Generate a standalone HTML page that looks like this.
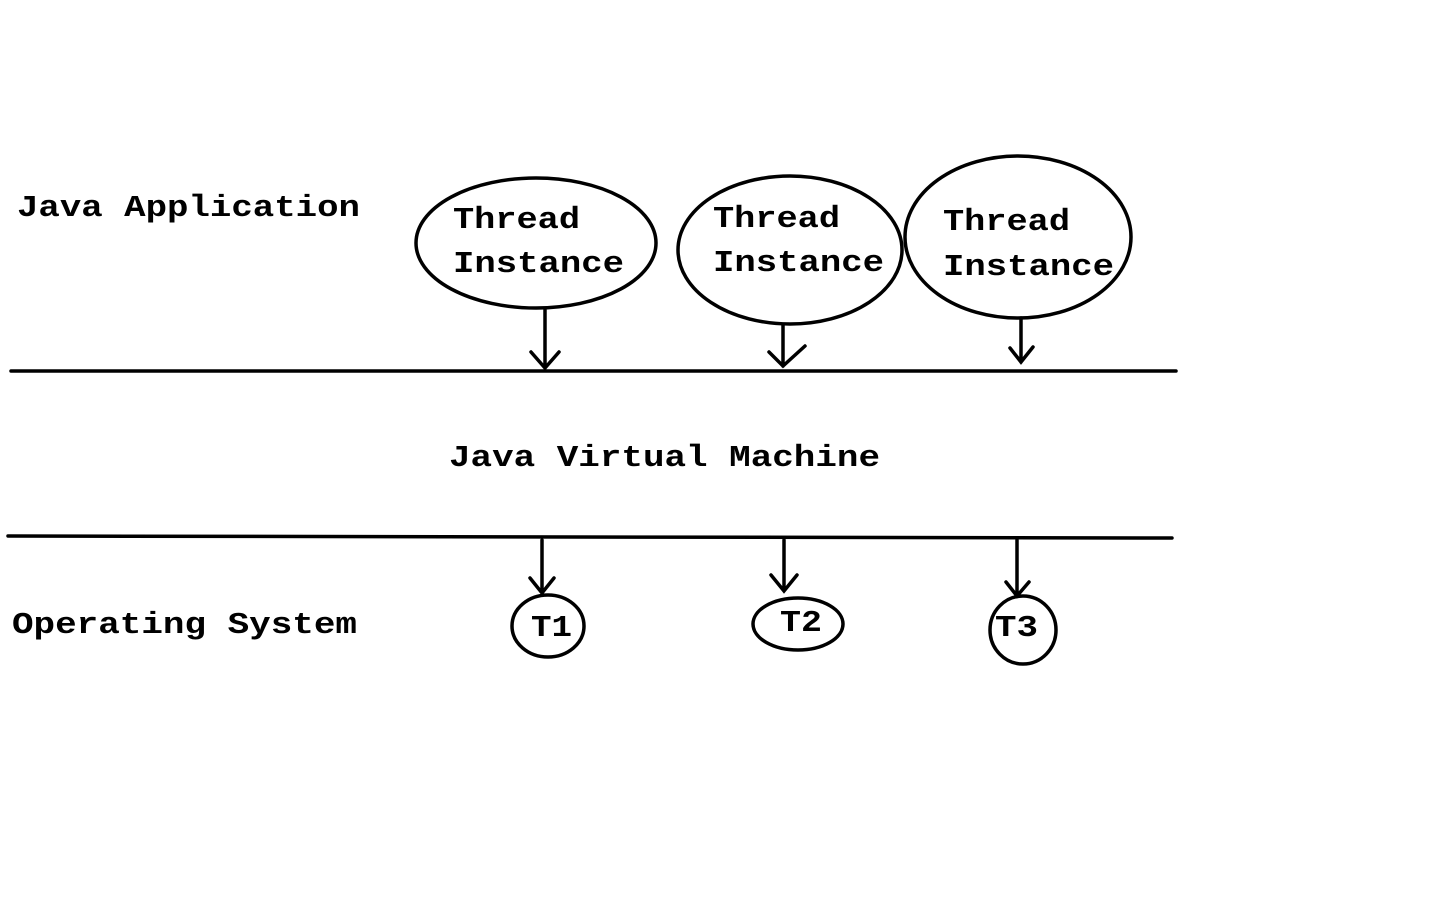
<!DOCTYPE html>
<html><head><meta charset="utf-8"><style>
html,body{margin:0;padding:0;background:#fff;width:1440px;height:900px;overflow:hidden}
svg{display:block}
text{font-family:"Liberation Mono","DejaVu Sans Mono",monospace;font-weight:bold;font-size:31px;fill:#000}
</style></head><body>
<svg width="1440" height="900" viewBox="0 0 1440 900" xmlns="http://www.w3.org/2000/svg">
<g fill="none" stroke="#000" stroke-width="3.5" stroke-linecap="round">
<line x1="11" y1="371" x2="1176" y2="371"/>
<line x1="8" y1="536" x2="1172" y2="538"/>
<ellipse cx="536" cy="243" rx="120" ry="65"/>
<ellipse cx="790" cy="250" rx="112" ry="74"/>
<ellipse cx="1018" cy="237" rx="113" ry="81"/>
<path d="M545 310 V368 M531 352 L545 368 L559 352"/>
<path d="M783 325 V366 M769 352 L783 366 L805 346"/>
<path d="M1021 318 V362 M1010 348 L1021 362 L1033 347"/>
<path d="M542 540 V592 M530 578 L542 593 L554 578"/>
<path d="M784 540 V590 M771 575 L784 591 L797 575"/>
<path d="M1017 540 V595 M1006 582 L1017 596 L1029 582"/>
<ellipse cx="548" cy="626" rx="36" ry="31"/>
<ellipse cx="798" cy="624" rx="45" ry="26"/>
<ellipse cx="1023" cy="630" rx="33" ry="34"/>
</g>
<text x="17" y="216" textLength="343" lengthAdjust="spacingAndGlyphs">Java Application</text>
<text x="453" y="228" textLength="127" lengthAdjust="spacingAndGlyphs">Thread</text>
<text x="453" y="272" textLength="171" lengthAdjust="spacingAndGlyphs">Instance</text>
<text x="713" y="227" textLength="127" lengthAdjust="spacingAndGlyphs">Thread</text>
<text x="713" y="271" textLength="171" lengthAdjust="spacingAndGlyphs">Instance</text>
<text x="943" y="230" textLength="127" lengthAdjust="spacingAndGlyphs">Thread</text>
<text x="943" y="275" textLength="171" lengthAdjust="spacingAndGlyphs">Instance</text>
<text x="449" y="466" textLength="431" lengthAdjust="spacingAndGlyphs">Java Virtual Machine</text>
<text x="12" y="633" textLength="345" lengthAdjust="spacingAndGlyphs">Operating System</text>
<text x="531" y="636" textLength="41" lengthAdjust="spacingAndGlyphs">T1</text>
<text x="780" y="631" textLength="42" lengthAdjust="spacingAndGlyphs">T2</text>
<text x="995" y="636" textLength="43" lengthAdjust="spacingAndGlyphs">T3</text>
</svg>
</body></html>
